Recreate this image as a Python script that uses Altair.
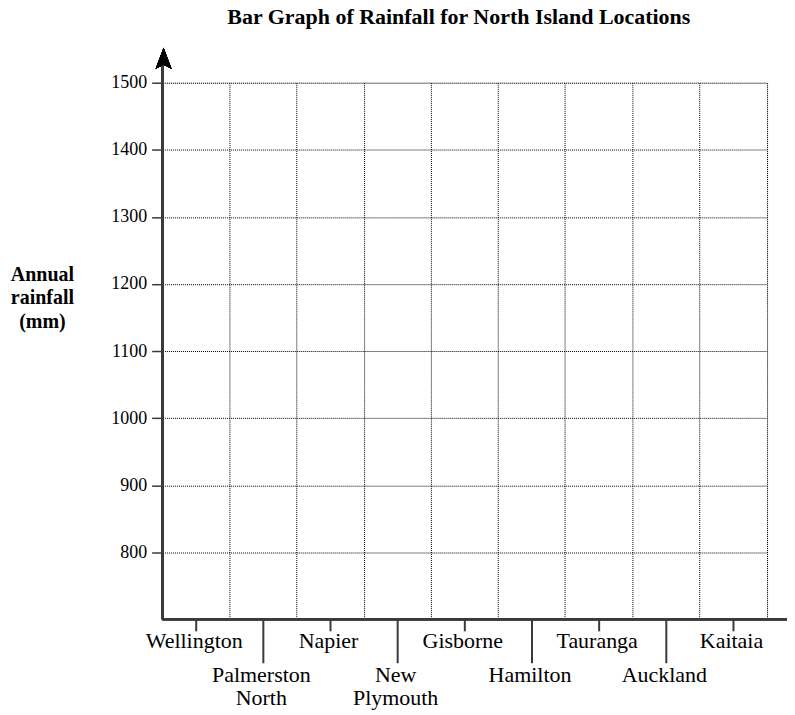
import altair as alt
import pandas as pd

# ---- data ----
locations = ["Wellington", "Palmerston North", "Napier", "New Plymouth", "Gisborne",
             "Hamilton", "Tauranga", "Auckland", "Kaitaia"]
label_text = ["Wellington", "Palmerston\nNorth", "Napier", "New\nPlymouth", "Gisborne",
              "Hamilton", "Tauranga", "Auckland", "Kaitaia"]
label_row = [1, 2, 1, 2, 1, 2, 1, 2, 1]
rainfall = [None] * 9  # blank graph: no bars drawn yet
y_domain = [700, 1500]
y_ticks = [800, 900, 1000, 1100, 1200, 1300, 1400, 1500]
chart_title = "Bar Graph of Rainfall for North Island Locations"
y_title = ["Annual", "rainfall", "(mm)"]

# ---- layout ----
W, H = 606, 538
FONT = "Liberation Serif"
AX = "#3a3a3a"

df = pd.DataFrame({"location": locations, "label": label_text, "row": label_row,
                   "rainfall": rainfall})

x_enc = alt.X("location:N", sort=locations,
              scale=alt.Scale(paddingInner=0, paddingOuter=0),
              axis=alt.Axis(title=None, labels=False, ticks=False, domain=False,
                            grid=True, bandPosition=1, gridColor="#000",
                            gridDash=[1, 1], gridWidth=1, gridOpacity=1))

y_enc = alt.Y("rainfall:Q",
              scale=alt.Scale(domain=y_domain, nice=False, zero=False),
              axis=alt.Axis(values=y_ticks, format="d", title=y_title, titleAngle=0,
                            titleAlign="center", titleBaseline="alphabetic",
                            titleX=-121, titleY=198, titleFont=FONT,
                            titleFontSize=20, titleFontWeight="bold",
                            titleLineHeight=23.5, titleColor="#000",
                            labelFont=FONT, labelFontSize=18, labelColor="#000",
                            labelPadding=5, tickSize=11, tickColor=AX,
                            tickWidth=1.5, domain=False, grid=True,
                            gridColor="#000", gridDash=[1, 1], gridWidth=1,
                            gridOpacity=1))

base = alt.Chart(df)

bars = base.mark_bar(color="#777").encode(x=x_enc, y=y_enc)

title_df = pd.DataFrame({"title": [chart_title]})
title = alt.Chart(title_df).mark_text(
    font=FONT, fontSize=22, fontWeight="bold", color="#000",
    baseline="alphabetic", align="center").encode(
    x=alt.value(W / 2 - 6), y=alt.value(-59), text="title:N")

y_line = base.mark_rule(color=AX, strokeWidth=2).encode(
    x=alt.value(0), y=alt.value(H), y2=alt.value(-20))
x_line = base.mark_rule(color=AX, strokeWidth=2).encode(
    x=alt.value(0), x2=alt.value(W + 26), y=alt.value(H))

arrow = base.mark_point(
    shape="M0,-1 L0.76,1 L0,0.62 L-0.76,1 Z", filled=True, color="#000",
    opacity=1, size=441).encode(x=alt.value(1), y=alt.value(-24.5))

ticks1 = base.transform_filter(alt.datum.row == 1).mark_rule(
    color=AX, strokeWidth=2).encode(
    x=alt.X("location:N", sort=locations),
    y=alt.value(H), y2=alt.value(H + 12))
ticks2 = base.transform_filter(alt.datum.row == 2).mark_rule(
    color=AX, strokeWidth=2).encode(
    x=alt.X("location:N", sort=locations),
    y=alt.value(H), y2=alt.value(H + 44))

labels1 = base.transform_filter(alt.datum.row == 1).mark_text(
    font=FONT, fontSize=22, color="#000", baseline="alphabetic",
    align="center", dx=-2).encode(
    x=alt.X("location:N", sort=locations), y=alt.value(H + 28.5),
    text="label:N")
labels2 = base.transform_filter(alt.datum.row == 2).mark_text(
    font=FONT, fontSize=22, color="#000", baseline="alphabetic",
    align="center", dx=-2, lineBreak="\n", lineHeight=23.7).encode(
    x=alt.X("location:N", sort=locations), y=alt.value(H + 62.5),
    text="label:N")

chart = alt.layer(bars, title, y_line, x_line, arrow, ticks1, ticks2,
                  labels1, labels2).properties(
    width=W, height=H,
    padding={"left": 155, "top": 74, "right": 20, "bottom": 95},
    autosize=alt.AutoSizeParams(type="none"),
).configure_view(stroke=None).configure(background="white")

chart.save("out.html", embed_options={"renderer": "svg", "actions": False})
